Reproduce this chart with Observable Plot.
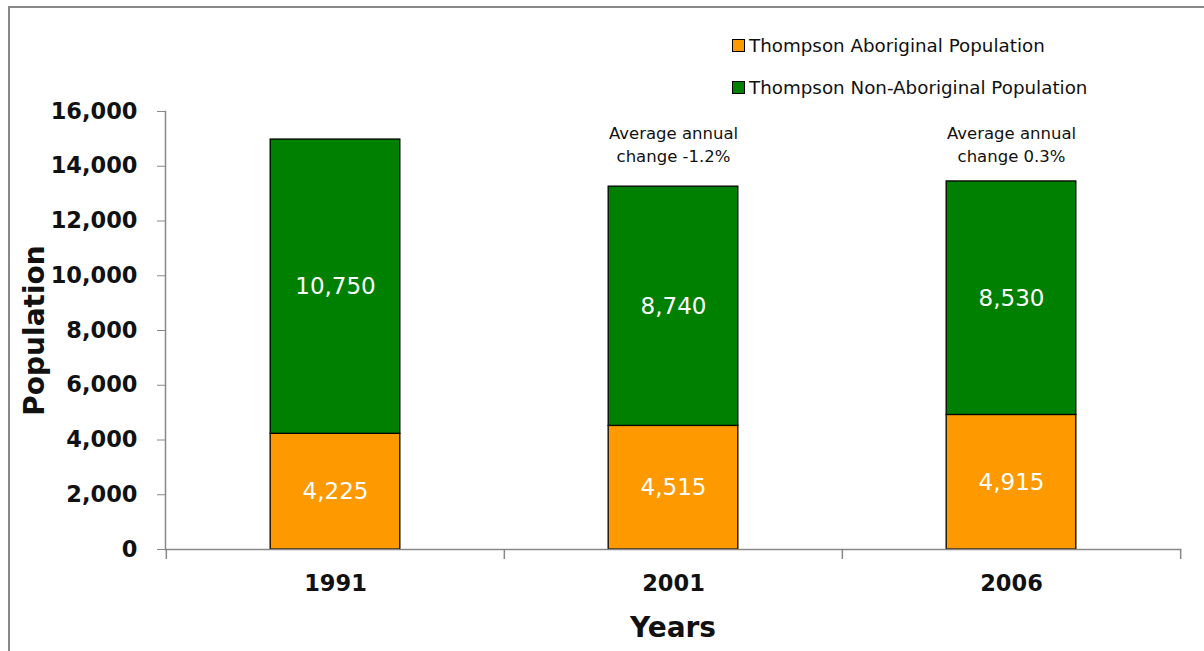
<!DOCTYPE html>
<html>
<head>
<meta charset="utf-8">
<script src="https://cdn.jsdelivr.net/npm/d3@7"></script>
<script src="https://cdn.jsdelivr.net/npm/@observablehq/plot@0.6"></script>
<style>
  html, body { margin: 0; padding: 0; background: #fff; overflow: hidden; }
  #wrap { position: relative; width: 1204px; height: 651px; font-family: "DejaVu Sans", Verdana, sans-serif; }
  #border { position: absolute; left: 8px; top: 6px; width: 1300px; height: 800px; border: 2px solid #888; box-sizing: border-box; }
  #chart { position: absolute; left: 0; top: 0; }
  #legend { position: absolute; left: 732px; top: 33px; font-size: 18.3px; color: #111; }
  #legend .item { display: flex; align-items: center; height: 24px; margin-bottom: 18px; }
  #legend .sw { width: 11px; height: 11px; border: 1px solid #000; margin-right: 4px; box-sizing: content-box; }
</style>
</head>
<body>
<div id="wrap">
  <div id="border"></div>
  <div id="chart"></div>
  <div id="legend"></div>
</div>
<script>
const years = ["1991", "2001", "2006"];
const aboriginal = [4225, 4515, 4915];
const nonAboriginal = [10750, 8740, 8530];
const annualChange = [null, "Average annual\nchange -1.2%", "Average annual\nchange 0.3%"];
const seriesNames = ["Thompson Aboriginal Population", "Thompson Non-Aboriginal Population"];
const seriesColors = ["#FF9900", "#008000"];
const yTicks = [0, 2000, 4000, 6000, 8000, 10000, 12000, 14000, 16000];

const rows = [];
years.forEach((y, i) => {
  rows.push({year: y, series: seriesNames[0], value: aboriginal[i]});
  rows.push({year: y, series: seriesNames[1], value: nonAboriginal[i]});
});
const notes = years.map((y, i) => ({year: y, text: annualChange[i]})).filter(d => d.text);

const W = 1204, H = 651;
const mL = 165, mR = 24, mT = 111, mB = 102;
const bw = (W - mL - mR) / years.length;
const barW = 130;
const inset = (bw - barW) / 2;
const fmt = d3.format(",");

const chart = Plot.plot({
  width: W,
  height: H,
  marginLeft: mL,
  marginRight: mR,
  marginTop: mT,
  marginBottom: mB,
  style: {fontFamily: "'DejaVu Sans', Verdana, sans-serif", background: "transparent"},
  x: {domain: years, padding: 0, label: null},
  y: {domain: [0, 16000], label: null},
  color: {domain: seriesNames, range: seriesColors},
  marks: [
    Plot.barY(rows, Plot.stackY({x: "year", y: "value", fill: "series", stroke: "#000", strokeWidth: 1.3, insetLeft: inset, insetRight: inset})),
    Plot.text(rows, Plot.stackY({x: "year", y: "value", text: d => fmt(d.value), fill: "white", fontSize: 23})),
    Plot.text(notes, {x: "year", text: "text", frameAnchor: "top", lineAnchor: "middle", dy: 32, fontSize: 16.5, lineHeight: 1.36, fill: "#111"}),
    Plot.frame({anchor: "left", stroke: "#888", strokeWidth: 1.5}),
    Plot.frame({anchor: "bottom", stroke: "#888", strokeWidth: 1.5}),
    Plot.ruleX(years, {x: d => d, dx: -bw / 2, insetTop: H - mT - mB, insetBottom: -10, stroke: "#888", strokeWidth: 1.5}),
    Plot.ruleX(years.slice(-1), {x: d => d, dx: bw / 2, insetTop: H - mT - mB, insetBottom: -10, stroke: "#888", strokeWidth: 1.5}),
    Plot.axisY({ticks: yTicks, tickFormat: fmt, tickSize: 8, tickPadding: 20, fontSize: 22.5, fontWeight: "bold", stroke: "#888", fill: "#111", label: null}),
    Plot.axisX({tickSize: 0, tickPadding: 26, fontSize: 22.5, fontWeight: "bold", fill: "#111", label: null}),
    Plot.text(["Population"], {frameAnchor: "left", textAnchor: "middle", dx: -130, rotate: -90, fontSize: 28, fontWeight: "bold", fill: "#111"}),
    Plot.text(["Years"], {frameAnchor: "bottom", dy: 87, fontSize: 28, fontWeight: "bold", fill: "#111"})
  ]
});
document.getElementById("chart").appendChild(chart);

const legend = document.getElementById("legend");
seriesNames.forEach((name, i) => {
  const item = document.createElement("div");
  item.className = "item";
  const sw = document.createElement("span");
  sw.className = "sw";
  sw.style.background = seriesColors[i];
  const label = document.createElement("span");
  label.textContent = name;
  item.appendChild(sw);
  item.appendChild(label);
  legend.appendChild(item);
});
</script>
</body>
</html>
